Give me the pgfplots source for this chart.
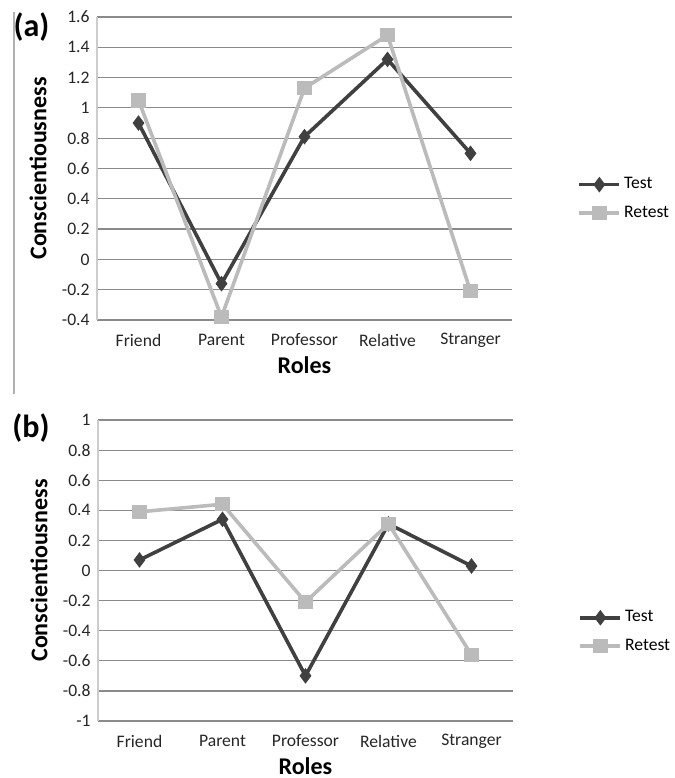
\documentclass[border=0pt]{standalone}
\usepackage{fontspec}
\setmainfont{Carlito}
\usepackage{pgfplots}
\pgfplotsset{compat=1.18}
\definecolor{testc}{HTML}{404040}
\definecolor{retestc}{HTML}{BBBBBB}
\definecolor{gridc}{HTML}{8A8A8A}
\pgfplotsset{
  rolestyle/.style={
    scale only axis,
    width=207.5bp,
    xmin=-0.5, xmax=4.5,
    xtick={0,1,2,3,4},
    xticklabels={Friend,Parent,Professor,Relative,Stranger},
    major tick length=0pt,
    axis x line*=bottom,
    axis y line*=left,
    x axis line style={draw=none},
    y axis line style={draw=gray!40, line width=0.6bp, -},
    ymajorgrids,
    grid style={draw=gridc, line width=0.6bp},
    tick label style={font=\fontsize{8.8bp}{10bp}\selectfont, text=black!85},
    xticklabel style={anchor=center, yshift=-10bp},
    yticklabel style={anchor=east, inner sep=0pt, xshift=-3.5bp},
    label style={font=\fontsize{12bp}{14bp}\selectfont\bfseries, inner sep=0pt},
    clip=false,
    legend style={draw=none, fill=none, font=\fontsize{8.8bp}{10bp}\selectfont,
      anchor=west, inner sep=0pt, row sep=4bp,
      nodes={inner sep=1.5bp}},
    legend cell align=left,
    legend image code/.code={
      \draw[mark repeat=2, mark phase=2, #1] plot coordinates {(0bp,0bp) (10bp,0bp) (20bp,0bp)};
    },
  },
  testline/.style={color=testc, line width=1.8bp, mark=diamond*, mark size=3.6bp, mark options={solid, fill=testc, draw=testc, line width=0.4bp}},
  retestline/.style={color=retestc, line width=1.8bp, mark=square*, mark size=3.3bp, mark options={solid, fill=retestc, draw=retestc, line width=0.4bp}},
}
\begin{document}
\begin{tikzpicture}
\useasboundingbox (0,0) rectangle (337.5bp,389bp);
\draw[gray!60, line width=1bp] (7bp,383bp) -- (7bp,192bp);
\node[font=\fontsize{16bp}{18bp}\selectfont\bfseries] at (15.75bp,375.5bp) {(a)};
\node[font=\fontsize{16bp}{18bp}\selectfont\bfseries] at (15.5bp,175bp) {(b)};
\begin{axis}[rolestyle,
  at={(48.5bp,229bp)}, anchor=south west,
  height=151.5bp,
  ymin=-0.4, ymax=1.6,
  ytick={-0.4,-0.2,0,0.2,0.4,0.6,0.8,1,1.2,1.4,1.6},
  yticklabels={-0.4,-0.2,0,0.2,0.4,0.6,0.8,1,1.2,1.4,1.6},
  xlabel={Roles}, ylabel={Conscientiousness},
  xlabel style={at={(axis description cs:0.5,-0.1485)}, anchor=center},
  ylabel style={at={(axis description cs:-0.1422,0.5)}, anchor=center},
  legend style={at={(axis description cs:1.157,0.40)}},
]
\addplot[testline] coordinates {(0,0.90) (1,-0.16) (2,0.81) (3,1.32) (4,0.70)};
\addlegendentry{Test}
\addplot[retestline] coordinates {(0,1.05) (1,-0.38) (2,1.13) (3,1.48) (4,-0.21)};
\addlegendentry{Retest}
\end{axis}
\begin{axis}[rolestyle,
  at={(49bp,28.5bp)}, anchor=south west,
  height=150.5bp,
  ymin=-1, ymax=1,
  ytick={-1,-0.8,-0.6,-0.4,-0.2,0,0.2,0.4,0.6,0.8,1},
  yticklabels={-1,-0.8,-0.6,-0.4,-0.2,0,0.2,0.4,0.6,0.8,1},
  xlabel={Roles}, ylabel={Conscientiousness},
  xlabel style={at={(axis description cs:0.5,-0.15)}, anchor=center},
  ylabel style={at={(axis description cs:-0.1422,0.5)}, anchor=center},
  legend style={at={(axis description cs:1.157,0.296)}},
]
\addplot[testline] coordinates {(0,0.07) (1,0.34) (2,-0.70) (3,0.31) (4,0.03)};
\addlegendentry{Test}
\addplot[retestline] coordinates {(0,0.39) (1,0.44) (2,-0.21) (3,0.31) (4,-0.56)};
\addlegendentry{Retest}
\end{axis}
\end{tikzpicture}
\end{document}
